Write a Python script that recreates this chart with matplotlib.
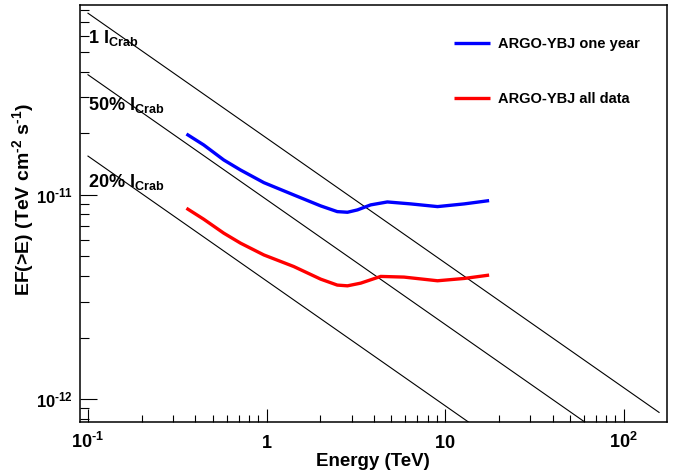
import matplotlib
matplotlib.use("Agg")
import matplotlib.pyplot as plt
from matplotlib.ticker import FixedLocator, FixedFormatter, NullFormatter

plt.rcParams['font.family'] = ['Liberation Sans', 'DejaVu Sans']
plt.rcParams['font.weight'] = 'bold'
plt.rcParams['mathtext.fontset'] = 'custom'
plt.rcParams['mathtext.rm'] = 'Liberation Sans:bold'
plt.rcParams['mathtext.bf'] = 'Liberation Sans:bold'
plt.rcParams['mathtext.it'] = 'Liberation Sans:bold'
plt.rcParams['mathtext.sf'] = 'Liberation Sans:bold'

# ---- data ----
one_year_E = [0.356, 0.445, 0.576, 0.715, 0.966, 1.42, 2.01, 2.49, 2.84,
              3.23, 3.83, 4.75, 6.42, 9.07, 12.8, 17.65]
one_year_F = [1.98e-11, 1.75e-11, 1.478e-11, 1.32e-11, 1.145e-11, 9.97e-12,
              8.81e-12, 8.26e-12, 8.20e-12, 8.42e-12, 8.91e-12, 9.21e-12,
              9.01e-12, 8.74e-12, 9.01e-12, 9.35e-12]
all_data_E = [0.356, 0.445, 0.576, 0.715, 0.966, 1.42, 2.01, 2.49, 2.84,
              3.37, 4.36, 5.89, 9.07, 12.8, 17.65]
all_data_F = [8.58e-12, 7.58e-12, 6.48e-12, 5.79e-12, 5.07e-12, 4.45e-12,
              3.86e-12, 3.61e-12, 3.58e-12, 3.69e-12, 3.98e-12, 3.95e-12,
              3.79e-12, 3.89e-12, 4.04e-12]

crab_E = [0.1, 158.0]
crab_100 = [7.72e-11, 8.6e-13]
crab_50 = [3.86e-11, 4.3e-13]
crab_20 = [1.544e-11, 1.72e-13]

crab_labels = [r'$\mathbf{1\ I_{Crab}}$', r'$\mathbf{50\%\ I_{Crab}}$',
               r'$\mathbf{20\%\ I_{Crab}}$']
crab_label_y = [5.5e-11, 2.59e-11, 1.09e-11]

series_labels = ['ARGO-YBJ one year', 'ARGO-YBJ all data']

x_major = [0.1, 1, 10, 100]
x_major_labels = [r'$10^{\text{-}1}$', r'$1$', r'$10$', r'$10^{2}$']
y_major = [1e-12, 1e-11]
y_major_labels = [r'$10^{\text{-}12}$', r'$10^{\text{-}11}$']

# ---- figure ----
W, H = 678, 476
fig = plt.figure(figsize=(W / 100, H / 100), dpi=100)
ax = fig.add_axes([80 / W, 1 - 422 / H, 587 / W, 417 / H])
ax.set_xscale('log')
ax.set_yscale('log')
ax.set_xlim(0.0902, 175)
ax.set_ylim(7.72e-13, 8.47e-11)

for vals in (crab_100, crab_50, crab_20):
    ax.plot(crab_E, vals, color='black', lw=0.8)

ax.plot(one_year_E, one_year_F, color='#0000ff', lw=2.4, label=series_labels[0],
        solid_capstyle='butt', solid_joinstyle='round')
ax.plot(all_data_E, all_data_F, color='#ff0000', lw=2.4, label=series_labels[1],
        solid_capstyle='butt', solid_joinstyle='round')

for lab, yv in zip(crab_labels, crab_label_y):
    ax.text(0.1, yv, lab, fontsize=13, va='baseline', ha='left')

# ticks
ax.xaxis.set_major_locator(FixedLocator(x_major))
ax.xaxis.set_major_formatter(FixedFormatter(x_major_labels))
xminor = [m * d for d in (0.1, 1, 10, 100) for m in range(2, 10)]
ax.xaxis.set_minor_locator(FixedLocator(xminor))
ax.xaxis.set_minor_formatter(NullFormatter())
ax.yaxis.set_major_locator(FixedLocator(y_major))
ax.yaxis.set_major_formatter(FixedFormatter(y_major_labels))
yminor = [m * d for d in (1e-13, 1e-12, 1e-11) for m in range(2, 10)]
ax.yaxis.set_minor_locator(FixedLocator(yminor))
ax.yaxis.set_minor_formatter(NullFormatter())

ax.tick_params(axis='x', which='major', direction='in', length=9.4, width=0.8,
               labelsize=13, pad=18.5)
ax.tick_params(axis='x', which='minor', direction='in', length=5, width=0.8)
ax.tick_params(axis='y', which='major', direction='in', length=12, width=0.8,
               labelsize=12, pad=5)
ax.tick_params(axis='y', which='minor', direction='in', length=6.2, width=0.8)
for lbl in ax.get_xticklabels():
    lbl.set_va('baseline')

for sp in ax.spines.values():
    sp.set_linewidth(1.1)

fig.text(373 / W, 1 - 462 / H, 'Energy (TeV)', fontsize=13.5, ha='center',
         va='center')
fig.text(23 / W, 1 - 200 / H, r'EF(>E) (TeV cm$^{\text{-}2}$ s$^{\text{-}1}$)',
         fontsize=14, rotation=90, ha='center', va='center')

ax.legend(loc='upper left', bbox_to_anchor=(454 / W, 1 - 37 / H),
          bbox_transform=fig.transFigure, frameon=False, fontsize=10.5,
          handlelength=2.5, handletextpad=0.5, labelspacing=2.8,
          borderpad=0, borderaxespad=0)

fig.savefig('out.png', dpi=100)
